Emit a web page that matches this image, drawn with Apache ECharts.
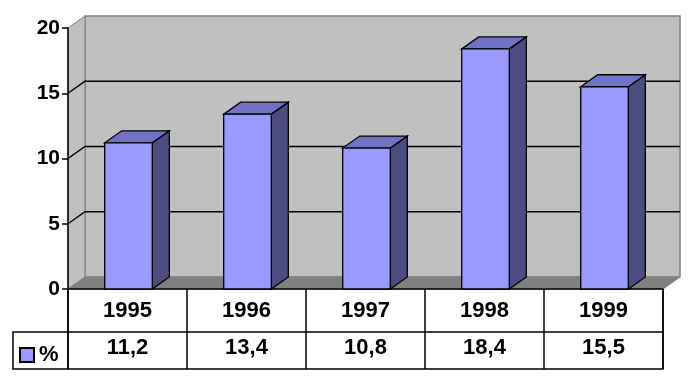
<!DOCTYPE html>
<html><head><meta charset="utf-8">
<script src="https://cdn.jsdelivr.net/npm/echarts@6/dist/echarts.min.js"></script>
<style>html,body{margin:0;padding:0;background:#fff}#c{width:700px;height:387px}</style>
</head><body><div id="c"></div>
<script>
const years = ['1995','1996','1997','1998','1999'];
const values = [11.2, 13.4, 10.8, 18.4, 15.5];
const valueLabels = ['11,2','13,4','10,8','18,4','15,5'];
const yTicks = [0, 5, 10, 15, 20];
const seriesName = '%';

const DX = 17, DY = -12;
const FONT = 'Liberation Sans, Arial, sans-serif';
const chart = echarts.init(document.getElementById('c'), null, {renderer: 'canvas'});

function wallsRender(params, api) {
  const bw = api.size([1, 0])[0];
  const p0 = api.coord([0, 0]);
  const p4 = api.coord([years.length - 1, 0]);
  const gl = p0[0] - bw / 2, gr = p4[0] + bw / 2;
  const y0 = p0[1];
  const yTop = api.coord([0, yTicks[yTicks.length - 1]])[1];
  const ch = [];
  const wallFill = '#c0c0c0';
  ch.push({type: 'polygon', shape: {points: [[gl + DX, yTop + DY], [gr + DX, yTop + DY], [gr + DX, y0 + DY], [gl + DX, y0 + DY]]},
    style: {fill: wallFill, stroke: '#808080', lineWidth: 1.5}});
  ch.push({type: 'polygon', shape: {points: [[gl, y0], [gl, yTop], [gl + DX, yTop + DY], [gl + DX, y0 + DY]]},
    style: {fill: wallFill, stroke: '#808080', lineWidth: 1}});
  ch.push({type: 'polygon', shape: {points: [[gl, y0], [gr, y0], [gr + DX, y0 + DY], [gl + DX, y0 + DY]]},
    style: {fill: '#808080', stroke: '#808080', lineWidth: 1}});
  yTicks.slice(1, -1).forEach(v => {
    const y = api.coord([0, v])[1];
    ch.push({type: 'polyline', shape: {points: [[gl, y], [gl + DX, y + DY], [gr + DX, y + DY]]},
      style: {stroke: '#000', lineWidth: 1.5, fill: null}});
  });
  const rowH1 = 43, rowH2 = 37, legW = 55;
  const yA = y0 + rowH1, yB = y0 + rowH1 + rowH2;
  ch.push({type: 'polyline', shape: {points: [[gl, yA], [gl - legW, yA], [gl - legW, yB], [gl, yB]]},
    style: {stroke: '#000', lineWidth: 1.5, fill: null}});
  ch.push({type: 'line', shape: {x1: gl, y1: y0, x2: gl, y2: yB}, style: {stroke: '#000', lineWidth: 1.5}});
  ch.push({type: 'line', shape: {x1: gr, y1: y0, x2: gr, y2: yB}, style: {stroke: '#000', lineWidth: 1.5}});
  return {type: 'group', children: ch};
}

function barRender(params, api) {
  const i = api.value(0), v = api.value(1);
  const bw = api.size([1, 0])[0];
  const w = bw * 0.4;
  const top = api.coord([i, v]);
  const bot = api.coord([i, 0]);
  const xl = top[0] - w / 2 + 1, xr = top[0] + w / 2 + 1;
  const yt = top[1], yb = bot[1];
  const st = {stroke: '#000', lineWidth: 1.3};
  return {type: 'group', children: [
    {type: 'polygon', shape: {points: [[xr, yt], [xr + DX, yt + DY], [xr + DX, yb + DY], [xr, yb]]},
      style: Object.assign({fill: '#4c4c80'}, st)},
    {type: 'polygon', shape: {points: [[xl, yt], [xr, yt], [xr + DX, yt + DY], [xl + DX, yt + DY]]},
      style: Object.assign({fill: '#7272c4'}, st)},
    {type: 'rect', shape: {x: xl, y: yt, width: xr - xl, height: yb - yt},
      style: Object.assign({fill: '#9999ff'}, st)}
  ]};
}

const boldText = {color: '#000', fontFamily: FONT, fontWeight: 'bold', fontSize: 21};
const tableText = Object.assign({}, boldText, {fontSize: 22});

chart.setOption({
  animation: false,
  backgroundColor: '#fff',
  grid: {left: 68, right: 37, top: 28, bottom: 98},
  legend: {
    data: [seriesName], left: 14, top: 339, icon: 'rect', itemWidth: 14, itemHeight: 14, itemGap: 6,
    textStyle: Object.assign({}, tableText, {padding: [0, 0, 0, 0]}),
    selectedMode: false
  },
  xAxis: [
    {type: 'category', data: years, position: 'bottom', gridIndex: 0,
      axisLine: {show: true, lineStyle: {color: '#000', width: 1.5}},
      axisTick: {show: true, length: 43, lineStyle: {color: '#000', width: 1.5}},
      axisLabel: Object.assign({margin: 11}, tableText), splitLine: {show: false}},
    {type: 'category', data: valueLabels, position: 'bottom', offset: 43, gridIndex: 0,
      axisLine: {show: true, lineStyle: {color: '#000', width: 1.5}},
      axisTick: {show: true, length: 37, lineStyle: {color: '#000', width: 1.5}},
      axisLabel: Object.assign({margin: 5}, tableText), splitLine: {show: false}},
    {type: 'category', data: years, position: 'bottom', offset: 80, gridIndex: 0,
      axisLine: {show: true, lineStyle: {color: '#000', width: 1.5}},
      axisTick: {show: false}, axisLabel: {show: false}, splitLine: {show: false}}
  ],
  yAxis: {type: 'value', min: 0, max: 20, interval: 5,
    axisLine: {show: true, lineStyle: {color: '#000', width: 1.5}},
    axisTick: {show: true, length: 6, lineStyle: {color: '#000', width: 1.5}},
    axisLabel: Object.assign({margin: 8}, boldText),
    splitLine: {show: false}},
  series: [
    {type: 'custom', name: '_walls', z: -1, silent: true, renderItem: wallsRender, data: [[0, 0]], xAxisIndex: 0, clip: false},
    {type: 'custom', name: seriesName, z: 2, renderItem: barRender, xAxisIndex: 0,
      itemStyle: {color: '#9999ff', borderColor: '#000', borderWidth: 1},
      encode: {x: 0, y: 1},
      data: values.map((v, i) => [i, v])}
  ]
});
</script></body></html>
